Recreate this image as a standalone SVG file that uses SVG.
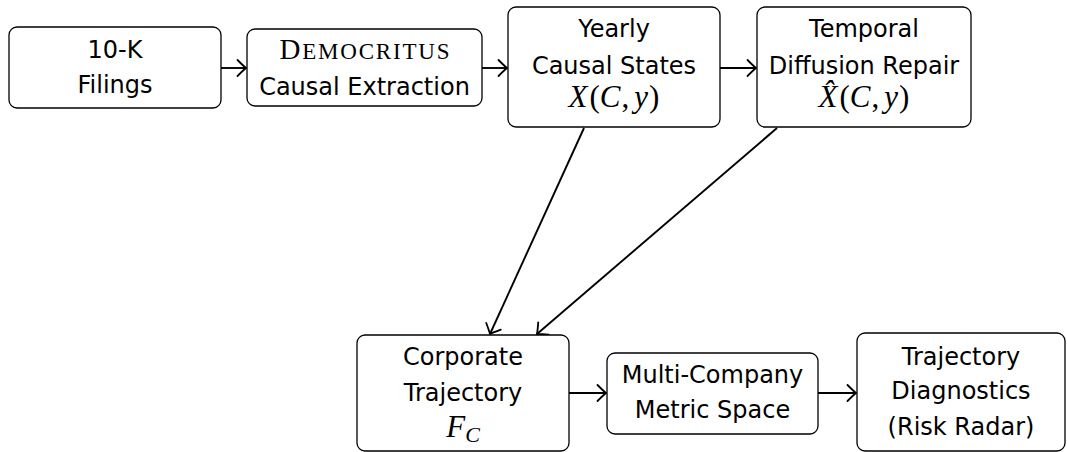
<svg xmlns="http://www.w3.org/2000/svg" width="1067" height="452" viewBox="0 0 1067 452">
<defs>
<marker id="to" markerUnits="userSpaceOnUse" markerWidth="24" markerHeight="24" viewBox="-12 -12 24 24" refX="0" refY="0" orient="auto">
<path d="M-8.5,-8 Q-2.5,-2 0,0 Q-2.5,2 -8.5,8" fill="none" stroke="#000" stroke-width="1.8" stroke-linecap="round"/>
</marker>
<style>
.box{fill:#fff;stroke:#000;stroke-width:1.3}
.t{font-family:"DejaVu Sans",sans-serif;font-size:24px;text-anchor:middle;fill:#000}
.m{font-family:"Liberation Serif",serif;font-size:31px;text-anchor:middle;fill:#000}
.i{font-style:italic}
.sc{font-family:"Liberation Serif",serif;font-size:23px;text-anchor:middle;fill:#000}
.c{fill:none;stroke:#000;stroke-width:1.9;marker-end:url(#to)}
</style>
</defs>
<g id="connectors">
<line class="c" x1="221" y1="68" x2="246" y2="68"/>
<line class="c" x1="482" y1="68" x2="507" y2="68"/>
<line class="c" x1="720" y1="68" x2="756" y2="68"/>
<line class="c" x1="584" y1="128" x2="490" y2="334"/>
<line class="c" x1="777" y1="128" x2="537" y2="334"/>
<line class="c" x1="569" y1="393" x2="606" y2="393"/>
<line class="c" x1="818" y1="393" x2="856" y2="393"/>
</g>
<g id="n1">
<rect class="box" x="9" y="27" width="212" height="81" rx="8"/>
<text class="t" x="115" y="58">10-K</text>
<text class="t" x="115" y="93">Filings</text>
</g>
<g id="n2">
<rect class="box" x="247" y="29" width="235" height="77" rx="8"/>
<text class="sc" x="364.5" y="59" textLength="170" lengthAdjust="spacing"><tspan font-size="29">D</tspan>EMOCRITUS</text>
<text class="t" x="364.5" y="95">Causal Extraction</text>
</g>
<g id="n3">
<rect class="box" x="508" y="7" width="212" height="120" rx="8"/>
<text class="t" x="614" y="37">Yearly</text>
<text class="t" x="614" y="74">Causal States</text>
<text class="m" x="614" y="107"><tspan class="i">X</tspan><tspan dx="2">(</tspan><tspan class="i">C</tspan><tspan dx="1">,</tspan><tspan dx="5" class="i">y</tspan><tspan dx="1">)</tspan></text>
</g>
<g id="n4">
<rect class="box" x="757" y="7" width="214" height="120" rx="8"/>
<text class="t" x="864" y="37">Temporal</text>
<text class="t" x="864" y="74">Diffusion Repair</text>
<text class="m" x="864" y="107"><tspan class="i">X̂</tspan><tspan dx="2">(</tspan><tspan class="i">C</tspan><tspan dx="1">,</tspan><tspan dx="5" class="i">y</tspan><tspan dx="1">)</tspan></text>
</g>
<g id="n5">
<rect class="box" x="357" y="335" width="212" height="116" rx="8"/>
<text class="t" x="463" y="365">Corporate</text>
<text class="t" x="463" y="401">Trajectory</text>
<text class="m" x="463" y="437"><tspan class="i">F</tspan><tspan class="i" font-size="22" dy="5">C</tspan></text>
</g>
<g id="n6">
<rect class="box" x="607" y="353" width="211" height="81" rx="8"/>
<text class="t" x="712.5" y="383">Multi-Company</text>
<text class="t" x="712.5" y="418">Metric Space</text>
</g>
<g id="n7">
<rect class="box" x="857" y="333" width="208" height="118" rx="8"/>
<text class="t" x="961" y="365">Trajectory</text>
<text class="t" x="961" y="399">Diagnostics</text>
<text class="t" x="961" y="435">(Risk Radar)</text>
</g>
</svg>
